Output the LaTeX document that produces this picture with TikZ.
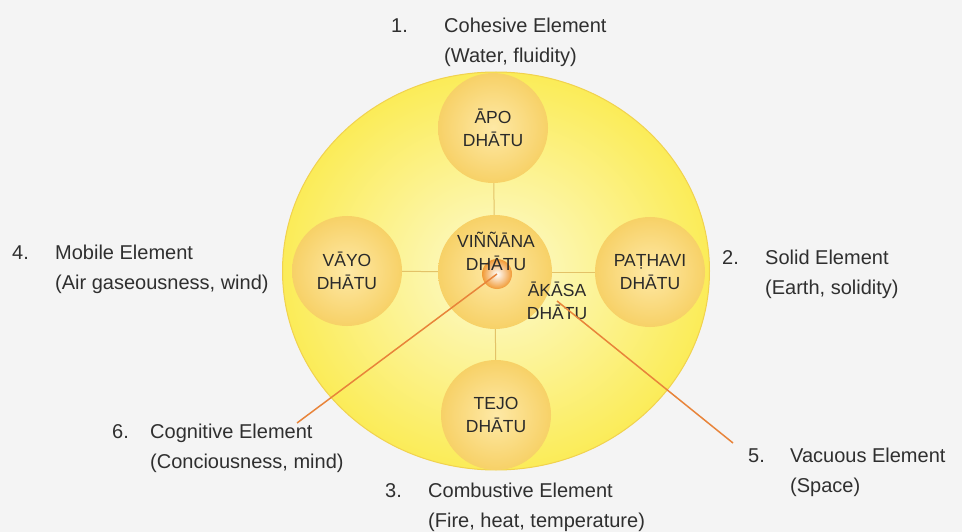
\documentclass[tikz,border=0pt]{standalone}
\usepackage{fontspec}
\setmainfont{Liberation Sans}
\usetikzlibrary{shapes.geometric}
\definecolor{bggray}{HTML}{F4F4F4}
\definecolor{paleyellow}{HTML}{FDFAD0}
\definecolor{sunyellow}{HTML}{FBEC58}
\definecolor{rimyellow}{HTML}{F1D24E}
\definecolor{dhatuin}{HTML}{FEE9A6}
\definecolor{dhatuout}{HTML}{F7D167}
\definecolor{coreorange}{HTML}{F19A35}
\definecolor{linktan}{HTML}{E3C268}
\definecolor{pointerorange}{HTML}{E8843A}
\definecolor{labeltext}{HTML}{2F2F2F}
\definecolor{dhatutext}{HTML}{2A2A2A}

\begin{document}
\begin{tikzpicture}[x=1pt, y=-1pt,
    worldcircle/.style={ellipse, draw=rimyellow, line width=1pt, minimum width=427pt, minimum height=398pt, inner color=paleyellow, outer color=sunyellow},
    dhatu/.style={circle, minimum size=110pt, inner color=dhatuin, outer color=dhatuout, align=center, text=dhatutext, font=\fontsize{17.5}{23}\selectfont},
    corecircle/.style={circle, minimum size=30pt, inner color=white, outer color=coreorange},
    dhatuname/.style={align=center, inner sep=0pt, text=dhatutext, font=\fontsize{17.5}{23}\selectfont},
    link/.style={draw=linktan, line width=1pt},
    pointer/.style={draw=pointerorange, line width=1.5pt},
    elem/.style={anchor=base west, inner sep=0pt, text=labeltext, font=\fontsize{20}{30}\selectfont}
]
\useasboundingbox (0,0) rectangle (962,532);
\fill[bggray] (0,0) rectangle (962,532);

% big circle and the five dhatus
\node[worldcircle] (world) at (496,271) {};
\node[dhatu] (apo) at (493,128) {ĀPO\\DHĀTU};
\node[dhatu] (vayo) at (347,271) {VĀYO\\DHĀTU};
\node[dhatu] (pathavi) at (650,272) {PAṬHAVI\\DHĀTU};
\node[dhatu] (tejo) at (496,415) {TEJO\\DHĀTU};
\node[dhatu, minimum size=114pt] (vinnana) at (495,272) {};
\draw[link] (apo) -- (vinnana);
\draw[link] (vayo) -- (vinnana);
\draw[link] (pathavi) -- (vinnana);
\draw[link] (tejo) -- (vinnana);
\node[corecircle] (core) at (497,274) {};
\node[dhatuname] (vinnananame) at (496,251) {VIÑÑĀNA\\DHĀTU};
\node[dhatuname] (akasa) at (557,301) {ĀKĀSA\\DHĀTU};

% pointers to the labels
\coordinate (cogend) at (297,423);
\coordinate (vacend) at (733,443);
\draw[pointer] (core.center) -- (cogend);
\draw[pointer] (akasa.center) -- (vacend);

% labels
\node[elem] (cohesive) at (391,33) {\begin{tabular}[t]{@{}p{53pt}@{}l@{}}1. & Cohesive Element\\ & (Water, fluidity)\end{tabular}};
\node[elem] (solid) at (722,265) {\begin{tabular}[t]{@{}p{43pt}@{}l@{}}2. & Solid Element\\ & (Earth, solidity)\end{tabular}};
\node[elem] (combustive) at (385,497) {\begin{tabular}[t]{@{}p{43pt}@{}l@{}}3. & Combustive Element\\ & (Fire, heat, temperature)\end{tabular}};
\node[elem] (mobile) at (12,259) {\begin{tabular}[t]{@{}p{43pt}@{}l@{}}4. & Mobile Element\\ & (Air gaseousness, wind)\end{tabular}};
\node[elem] (vacuous) at (748,462) {\begin{tabular}[t]{@{}p{42pt}@{}l@{}}5. & Vacuous Element\\ & (Space)\end{tabular}};
\node[elem] (cognitive) at (112,438) {\begin{tabular}[t]{@{}p{38pt}@{}l@{}}6. & Cognitive Element\\ & (Conciousness, mind)\end{tabular}};
\end{tikzpicture}
\end{document}
